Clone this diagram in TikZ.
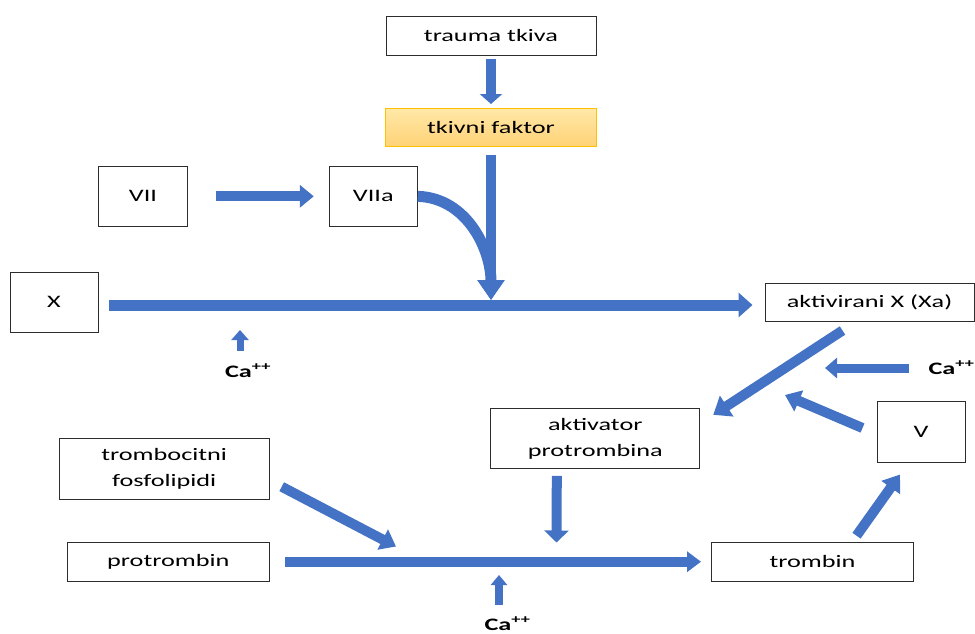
\documentclass[tikz,border=0pt]{standalone}
\usepackage{fontspec}
\setmainfont[FakeStretch=1.5]{Carlito}
\usetikzlibrary{arrows.meta}
\definecolor{plava}{RGB}{68,114,196}
\definecolor{okvir}{RGB}{45,45,45}
\definecolor{zutaGore}{RGB}{255,232,168}
\definecolor{zutaDole}{RGB}{255,210,118}
\definecolor{zutiOkvir}{RGB}{255,192,0}

\begin{document}
\begin{tikzpicture}[x=1pt,y=-1pt]
        \tikzstyle{kutija}=[draw=okvir,rectangle,line width=1pt,text centered,inner sep=0pt,text=black,font=\fontsize{17.5}{26}\selectfont]
        \tikzstyle{kalcij}=[inner sep=0pt,anchor=base,text=black,font=\fontsize{17.5}{20}\selectfont\bfseries]
        \tikzstyle{strelica}=[draw=plava,line width=10pt,-{Triangle[length=14pt,width=24pt]}]
        \tikzstyle{mala}=[draw=plava,line width=7pt,-{Triangle[length=10pt,width=17pt]}]

        \useasboundingbox (0,0) rectangle (975,633);

        % kutije
        \node[kutija,minimum width=210pt,minimum height=39pt] (trauma) at (491,35.5) {trauma tkiva};
        \node[kutija,draw=zutiOkvir,top color=zutaGore,bottom color=zutaDole,minimum width=211pt,minimum height=38pt] (faktor) at (491,127.5) {tkivni faktor};
        \node[kutija,minimum width=89pt,minimum height=60pt] (sedam) at (143,196.3) {VII};
        \node[kutija,minimum width=88pt,minimum height=60pt] (sedamA) at (373.3,196.3) {VIIa};
        \node[kutija,minimum width=88pt,minimum height=60pt] (x) at (54,302) {X};
        \node[kutija,minimum width=209pt,minimum height=38pt] (xa) at (869.5,302) {aktivirani X (Xa)};
        \node[kutija,minimum width=209pt,minimum height=60pt] (aktivator) at (595.3,438.3) {
            \begin{tabular}{c}
                aktivator \\
                protrombina
            \end{tabular}};
        \node[kutija,minimum width=88pt,minimum height=61pt] (pet) at (921,432) {V};
        \node[kutija,minimum width=210pt,minimum height=61pt] (fosfo) at (164.2,468.7) {
            \begin{tabular}{c}
                trombocitni \\
                fosfolipidi
            \end{tabular}};
        \node[kutija,minimum width=202pt,minimum height=39pt] (protrombin) at (168.3,561.7) {protrombin};
        \node[kutija,minimum width=202pt,minimum height=39pt] (trombin) at (812.5,561.7) {trombin};

        % Ca++
        \node[kalcij] (ca1) at (248,377) {Ca\textsuperscript{++}};
        \node[kalcij] (ca2) at (951.5,374) {Ca\textsuperscript{++}};
        \node[kalcij] (ca3) at (507.5,630) {Ca\textsuperscript{++}};

        \coordinate (spoj) at (491,300);
        \coordinate (ca1vrh) at (240,330);
        \coordinate (ca2vrh) at (825,368);
        \coordinate (petVrh) at (785,395);
        \coordinate (fosfoVrh) at (396,546.5);
        \coordinate (aktVrh) at (556.5,542.5);
        \coordinate (ca3vrh) at (499,575);

        % strelice
        \draw[strelica,-{Triangle[length=10pt,width=22pt]},shorten <=3pt,shorten >=4pt] (trauma) -- (faktor);
        \draw[strelica,-{Triangle[length=20pt,width=26pt]},shorten <=8pt] (faktor) -- (spoj);
        \draw[strelica,-{Triangle[length=14pt,width=22pt]},shorten <=28pt,shorten >=15pt] (sedam) -- (sedamA);
        \draw[strelica,line width=11pt,-{Triangle[length=20pt,width=26pt]}] (sedamA.east) to[out=-2,in=90] (spoj);
        \draw[strelica,line width=11pt,shorten <=10pt,shorten >=12pt] ([yshift=-3pt]x.east) -- ([yshift=-3pt]xa.west);
        \draw[mala] ([xshift=-8pt,yshift=26pt]ca1.base) -- (ca1vrh);

        \draw[strelica,-{Triangle[length=16pt,width=24pt]}] ([xshift=-27pt,yshift=-9pt]xa.south) -- ([xshift=13pt,yshift=-7pt]aktivator.north east);
        \draw[strelica,line width=9pt,-{Triangle[length=12pt,width=20pt]}] ([xshift=-43pt,yshift=6pt]ca2.base) -- (ca2vrh);
        \draw[strelica,-{Triangle[length=15pt,width=22pt]}] ([xshift=-14pt,yshift=4pt]pet.west) -- (petVrh);

        \draw[strelica,-{Triangle[length=15pt,width=22pt]}] ([xshift=12pt,yshift=-18pt]fosfo.east) -- (fosfoVrh);
        \draw[strelica,-{Triangle[length=12pt,width=24pt]}] ([xshift=-38.5pt,yshift=-7pt]aktivator.south) -- (aktVrh);
        \draw[strelica,-{Triangle[length=14pt,width=20pt]},shorten <=15pt,shorten >=10pt] (protrombin) -- (trombin);
        \draw[mala,line width=8pt,-{Triangle[length=10pt,width=16pt]}] ([xshift=-8.5pt,yshift=25pt]ca3.base) -- (ca3vrh);
        \draw[strelica,-{Triangle[length=16pt,width=22pt]}] ([xshift=44pt,yshift=6pt]trombin.north) -- ([xshift=-21pt,yshift=-11.5pt]pet.south);

\end{tikzpicture}
\end{document}
